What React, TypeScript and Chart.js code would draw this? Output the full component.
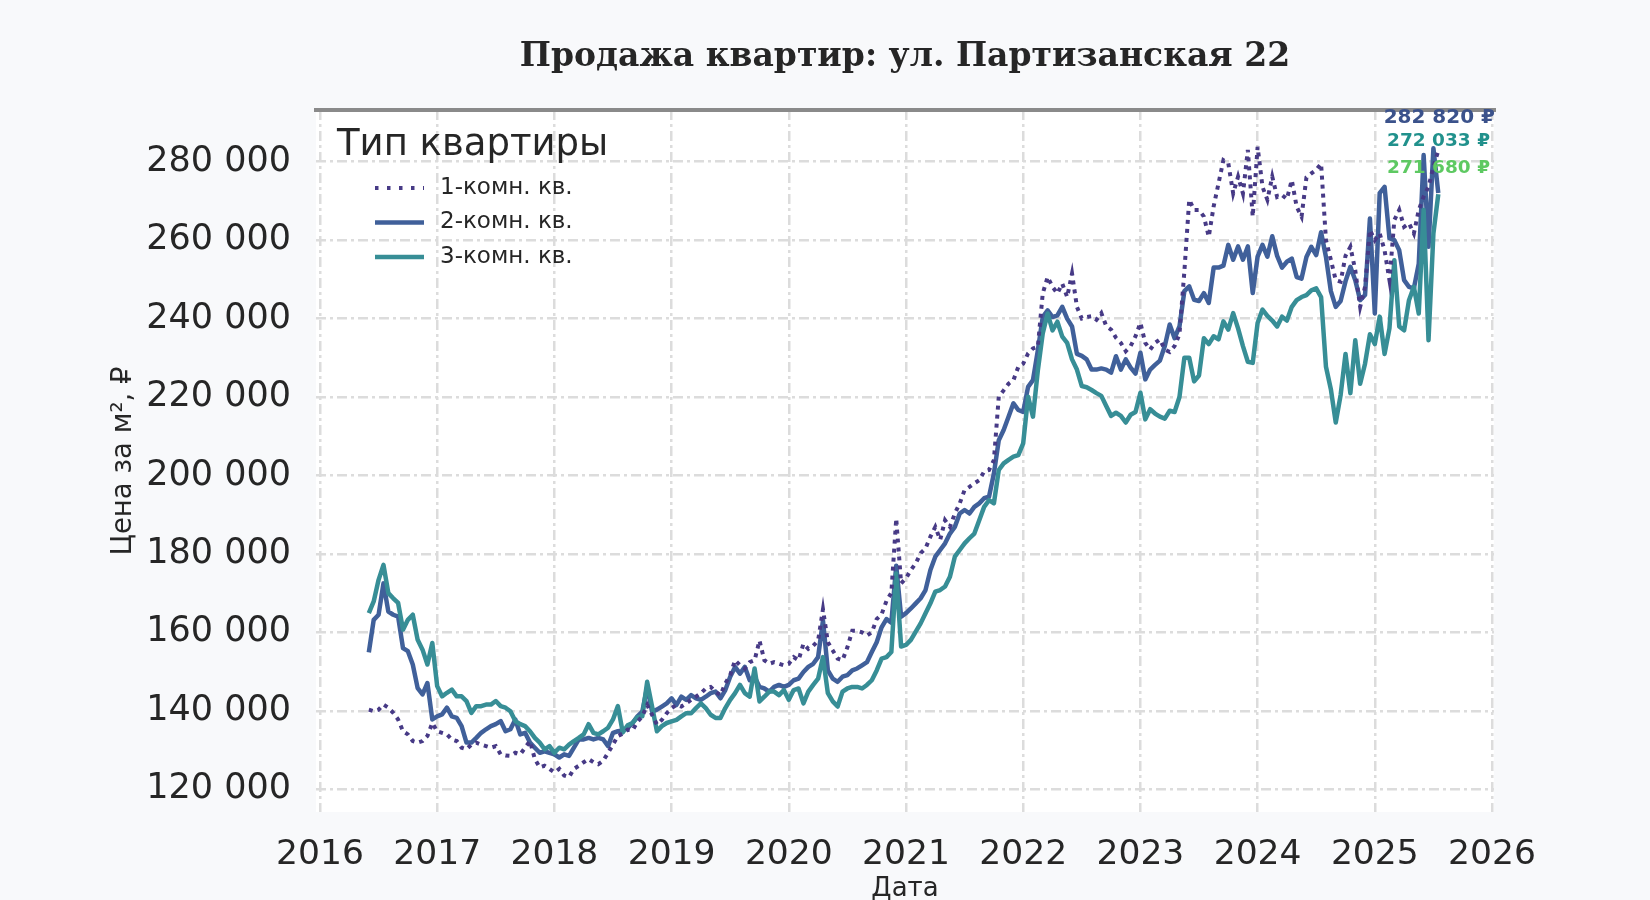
import React, { useEffect, useRef } from 'react';
import { Chart, registerables } from 'chart.js';

Chart.register(...registerables);

// Цена за м², тыс. ₽ — две точки в месяц (1-е и 15-е число)
const years = [2016, 2017, 2018, 2019, 2020, 2021, 2022, 2023, 2024, 2025];
const firstHalfOf2016 = 10; // ряды начинаются с июня 2016

// 1-комн. кв.
const k1_2016 = [140.3, 139.9, 140.3, 141.6, 140.8, 139.5, 137.8, 134.8, 134.0, 132.3, 131.9, 132.3, 133.6, 136.9];
const k1_2017 = [134.8, 134.4, 134.0, 132.7, 132.3, 130.6, 130.2, 131.4, 131.9, 131.4, 131.0, 130.6, 131.0, 128.9, 128.6, 128.5, 129.3, 128.9, 130.6, 132.3, 127.7, 125.6, 126.0, 125.2];
const k1_2018 = [124.3, 125.2, 123.5, 123.1, 125.2, 126.0, 126.9, 127.7, 126.9, 126.4, 127.3, 129.3, 131.4, 133.6, 134.2, 135.2, 135.0, 137.2, 138.6, 141.5, 139.0, 136.5, 137.7, 139.4];
const k1_2019 = [140.7, 141.5, 141.1, 141.9, 142.8, 143.6, 144.5, 145.7, 146.1, 144.9, 144.0, 147.0, 149.1, 152.9, 151.6, 150.8, 152.4, 152.9, 157.9, 152.9, 152.0, 152.4, 152.0, 151.6];
const k1_2020 = [152.0, 153.7, 152.9, 157.1, 155.8, 156.6, 157.9, 165.9, 157.5, 155.4, 153.3, 152.9, 156.2, 160.4, 160.4, 160.0, 159.2, 160.0, 163.4, 164.6, 168.0, 170.1, 189.0, 172.5];
const k1_2021 = [173.8, 175.9, 177.6, 180.2, 181.4, 184.4, 186.9, 183.6, 188.6, 186.9, 190.3, 192.9, 196.3, 197.1, 198.0, 198.8, 201.0, 201.4, 203.9, 220.1, 221.7, 223.4, 224.3, 227.7];
const k1_2022 = [228.5, 231.1, 232.4, 232.8, 246.4, 250.6, 248.1, 246.4, 248.9, 245.5, 251.5, 243.0, 240.0, 240.4, 240.6, 239.7, 241.4, 238.1, 237.2, 235.1, 233.8, 231.7, 233.0, 235.5];
const k1_2023 = [238.9, 233.8, 232.1, 233.8, 234.7, 232.1, 231.5, 233.0, 236.0, 252.0, 270.3, 267.7, 267.7, 266.0, 260.9, 268.6, 274.5, 280.4, 279.6, 271.9, 276.2, 271.9, 283.0, 266.0];
const k1_2024 = [283.8, 273.6, 270.3, 276.2, 271.0, 271.5, 270.5, 275.3, 268.5, 266.0, 276.0, 277.0, 277.9, 279.5, 260.0, 255.0, 249.8, 249.4, 256.0, 258.3, 252.3, 243.0, 248.1, 262.6];
const k1_2025 = [260.0, 261.7, 257.4, 249.8, 265.1, 267.7, 263.4, 264.3, 261.7, 267.7, 271.1, 273.6, 278.7, 282.82];

// 2-комн. кв.
const k2_2016 = [154.9, 163.2, 164.5, 172.5, 165.3, 164.5, 164.0, 156.0, 155.2, 151.8, 145.8, 144.2, 147.1, 137.8];
const k2_2017 = [138.6, 139.1, 140.8, 138.6, 138.2, 136.1, 131.9, 131.9, 133.1, 134.4, 135.3, 136.1, 136.6, 137.4, 134.8, 135.3, 137.8, 134.0, 134.4, 131.9, 130.6, 129.3, 129.7, 129.3];
const k2_2018 = [128.9, 128.1, 128.9, 128.5, 130.6, 132.7, 132.7, 133.1, 132.7, 133.1, 132.7, 131.0, 134.4, 134.8, 135.0, 135.6, 136.9, 138.6, 139.8, 146.1, 139.8, 140.3, 141.1, 141.9];
const k2_2019 = [143.2, 141.5, 143.6, 142.8, 144.0, 143.2, 142.8, 143.6, 144.5, 144.9, 143.2, 145.3, 148.7, 151.2, 149.5, 151.2, 147.8, 148.7, 146.1, 145.7, 144.9, 146.1, 146.6, 146.1];
const k2_2020 = [146.6, 147.8, 148.2, 149.9, 151.2, 152.0, 153.7, 163.0, 150.3, 148.2, 147.4, 148.7, 149.1, 150.3, 150.8, 151.6, 152.4, 155.0, 157.5, 161.3, 163.4, 162.5, 177.0, 164.0];
const k2_2021 = [164.9, 166.1, 167.4, 168.7, 170.8, 175.9, 179.3, 181.0, 182.7, 185.2, 186.9, 190.3, 191.2, 190.3, 192.0, 192.9, 194.2, 194.6, 200.5, 209.0, 211.6, 215.0, 218.4, 216.7];
const k2_2022 = [216.2, 222.6, 224.3, 231.9, 240.4, 242.1, 240.4, 240.8, 243.0, 240.0, 238.0, 231.0, 230.5, 229.6, 227.0, 227.0, 227.3, 227.0, 226.2, 230.4, 227.0, 229.6, 227.5, 226.0];
const k2_2023 = [231.3, 224.5, 227.0, 228.2, 229.3, 233.0, 238.5, 235.0, 238.0, 247.0, 248.2, 244.8, 244.5, 246.5, 244.0, 253.0, 253.0, 253.5, 258.8, 255.0, 258.4, 255.0, 258.4, 246.5];
const k2_2024 = [255.8, 258.8, 255.8, 261.0, 256.0, 253.0, 254.5, 255.3, 250.6, 250.2, 255.7, 258.3, 256.2, 262.0, 255.7, 247.0, 243.0, 244.5, 249.5, 253.2, 249.8, 244.7, 246.0, 265.5];
const k2_2025 = [241.3, 272.0, 273.6, 260.5, 260.0, 257.4, 249.8, 248.1, 247.7, 254.0, 281.7, 258.3, 283.4, 272.033];

// 3-комн. кв.
const k3_2016 = [164.9, 167.9, 173.4, 177.2, 170.0, 168.7, 167.5, 160.7, 163.2, 164.5, 158.1, 155.6, 151.8, 157.3];
const k3_2017 = [146.3, 143.7, 144.6, 145.4, 143.7, 143.7, 142.5, 139.5, 141.2, 141.2, 141.6, 141.6, 142.5, 141.2, 140.8, 139.9, 137.4, 136.6, 136.1, 134.8, 133.1, 131.9, 130.2, 131.0];
const k3_2018 = [129.3, 130.6, 130.2, 131.4, 132.3, 133.1, 134.0, 136.6, 134.4, 134.0, 134.8, 135.7, 137.8, 141.2, 134.5, 136.3, 136.9, 138.4, 138.6, 147.4, 141.1, 134.8, 136.1, 136.9];
const k3_2019 = [137.3, 137.7, 138.6, 139.4, 139.4, 140.7, 141.9, 140.7, 139.0, 138.2, 138.2, 140.7, 142.8, 144.5, 146.6, 144.5, 143.6, 150.8, 142.4, 143.6, 144.9, 144.9, 144.0, 145.3];
const k3_2020 = [142.8, 145.3, 145.7, 141.9, 144.9, 146.6, 148.2, 153.7, 144.5, 142.4, 141.1, 144.9, 145.7, 146.1, 146.1, 145.7, 146.6, 147.8, 150.3, 153.3, 153.7, 155.0, 175.0, 156.4];
const k3_2021 = [156.8, 158.1, 160.2, 162.3, 164.9, 167.4, 170.4, 170.8, 171.7, 174.2, 179.3, 181.0, 182.7, 184.0, 185.2, 188.6, 192.0, 193.7, 192.9, 201.4, 203.1, 204.0, 204.8, 205.2];
const k3_2022 = [208.2, 220.1, 215.0, 226.8, 236.2, 241.3, 237.0, 239.2, 235.4, 233.8, 229.6, 227.0, 222.8, 222.5, 221.8, 221.0, 220.3, 217.7, 215.2, 216.0, 215.2, 213.5, 215.5, 216.2];
const k3_2023 = [221.1, 214.3, 216.9, 215.8, 215.0, 214.5, 216.5, 216.2, 220.0, 230.0, 230.0, 224.0, 225.5, 235.0, 233.5, 235.5, 234.7, 239.3, 237.2, 241.4, 237.5, 233.0, 229.0, 228.7];
const k3_2024 = [238.9, 242.3, 240.7, 239.5, 238.0, 240.5, 239.5, 243.0, 244.7, 245.5, 246.0, 247.2, 247.7, 245.5, 227.7, 222.0, 213.5, 220.5, 231.0, 221.0, 234.5, 223.4, 228.5, 236.0];
const k3_2025 = [233.5, 240.5, 231.0, 237.5, 254.9, 238.0, 237.0, 244.7, 248.1, 241.3, 267.7, 234.5, 261.7, 271.68];

const room1 = [k1_2016, k1_2017, k1_2018, k1_2019, k1_2020, k1_2021, k1_2022, k1_2023, k1_2024, k1_2025];
const room2 = [k2_2016, k2_2017, k2_2018, k2_2019, k2_2020, k2_2021, k2_2022, k2_2023, k2_2024, k2_2025];
const room3 = [k3_2016, k3_2017, k3_2018, k3_2019, k3_2020, k3_2021, k3_2022, k3_2023, k3_2024, k3_2025];

const chartTitle = 'Продажа квартир: ул. Партизанская 22';
const legendTitle = 'Тип квартиры';
const seriesLabels = ['1-комн. кв.', '2-комн. кв.', '3-комн. кв.'];
const seriesColors = ['#473a86', '#40609a', '#378e96'];
const lastValueColors = ['#3b528b', '#21918c', '#5ec962'];

const xTicks = [2016, 2017, 2018, 2019, 2020, 2021, 2022, 2023, 2024, 2025, 2026];
const yTicks = [120000, 140000, 160000, 180000, 200000, 220000, 240000, 260000, 280000];

const TEXT = '#262626';
const FONT = '"DejaVu Sans", sans-serif';

const toPoints = (byYear: number[][]) =>
    byYear.flatMap((vals, yi) =>
        vals.map((v, j) => ({
            x: years[yi] + ((yi === 0 ? firstHalfOf2016 : 0) + j) / 24,
            y: v * 1000,
        }))
    );

const fmt = (v: number) => String(Math.round(v)).replace(/\B(?=(\d{3})+(?!\d))/g, ' ');

const decorPlugin = {
    id: 'decor',
    beforeDraw(chart: any) {
        const { ctx, chartArea: a } = chart;
        ctx.save();
        ctx.fillStyle = '#f8f9fb';
        ctx.fillRect(0, 0, chart.width, chart.height);
        ctx.fillStyle = '#ffffff';
        ctx.fillRect(a.left, a.top, a.right - a.left, a.bottom - a.top);
        ctx.restore();
    },
    afterDraw(chart: any) {
        const { ctx, chartArea: a } = chart;
        ctx.save();

        // title, centred over the plot area
        ctx.textAlign = 'center';
        ctx.textBaseline = 'middle';
        ctx.fillStyle = TEXT;
        ctx.font = `bold 33px "DejaVu Serif", serif`;
        ctx.fillText(chartTitle, (a.left + a.right) / 2, 57);

        // top spine
        ctx.fillStyle = '#8a8a8a';
        ctx.fillRect(a.left - 2, a.top - 2, a.right - a.left + 4, 4);

        // last values
        ctx.textAlign = 'right';
        const sizes = [20, 18.5, 18.5];
        const dy = [8, 31.5, 58.5];
        const dx = [1, -4, -4];
        chart.data.datasets.forEach((ds: any, i: number) => {
            const last = ds.data[ds.data.length - 1].y;
            ctx.font = `bold ${sizes[i]}px ${FONT}`;
            ctx.fillStyle = lastValueColors[i];
            ctx.fillText(`${fmt(last)} ₽`, a.right + dx[i], a.top + dy[i]);
        });

        // legend
        ctx.textAlign = 'left';
        ctx.fillStyle = TEXT;
        ctx.font = `37px ${FONT}`;
        ctx.fillText(legendTitle, a.left + 21, a.top + 35);
        chart.data.datasets.forEach((ds: any, i: number) => {
            const y = a.top + 78 + i * 34.5;
            ctx.beginPath();
            ctx.setLineDash(i === 0 ? [3.5, 8.5] : []);
            ctx.lineWidth = ds.borderWidth;
            ctx.strokeStyle = ds.borderColor;
            ctx.moveTo(a.left + 59, y);
            ctx.lineTo(a.left + 108, y);
            ctx.stroke();
            ctx.setLineDash([]);
            ctx.font = `23px ${FONT}`;
            ctx.fillStyle = TEXT;
            ctx.fillText(ds.label, a.left + 124, y);
        });
        ctx.restore();
    },
};

const App: React.FC = () => {
    const chartRef = useRef<HTMLCanvasElement>(null);
    const chartInstance = useRef<Chart | null>(null);

    useEffect(() => {
        if (!chartRef.current) return;
        if (chartInstance.current) chartInstance.current.destroy();

        const ctx = chartRef.current.getContext('2d');
        if (!ctx) return;

        Chart.defaults.font.family = FONT;

        chartInstance.current = new Chart(ctx, {
            type: 'line',
            data: {
                datasets: [
                    {
                        label: seriesLabels[0],
                        data: toPoints(room1),
                        borderColor: seriesColors[0],
                        borderWidth: 4,
                        borderDash: [4, 5],
                        pointRadius: 0,
                        order: 0,
                    },
                    {
                        label: seriesLabels[1],
                        data: toPoints(room2),
                        borderColor: seriesColors[1],
                        borderWidth: 4.5,
                        borderJoinStyle: 'round',
                        pointRadius: 0,
                        order: 2,
                    },
                    {
                        label: seriesLabels[2],
                        data: toPoints(room3),
                        borderColor: seriesColors[2],
                        borderWidth: 4.5,
                        borderJoinStyle: 'round',
                        pointRadius: 0,
                        order: 1,
                    },
                ],
            },
            options: {
                responsive: false,
                animation: false,
                layout: { padding: { left: 0, right: 156, top: 110, bottom: 0 } },
                scales: {
                    x: {
                        type: 'linear',
                        min: 2015.966,
                        max: 2026.017,
                        afterBuildTicks: (s: any) => {
                            s.ticks = xTicks.map((v) => ({ value: v }));
                        },
                        afterFit: (s: any) => {
                            s.height = 88;
                        },
                        ticks: {
                            autoSkip: false,
                            maxRotation: 0,
                            padding: 22,
                            color: TEXT,
                            font: { size: 34.5 },
                            callback: (v: any) => String(v),
                        },
                        grid: { color: '#dcdcdc', lineWidth: 2.5, drawTicks: false },
                        border: { display: false, dash: [10, 4, 3, 4] },
                        title: {
                            display: true,
                            text: 'Дата',
                            color: TEXT,
                            font: { size: 26 },
                            padding: { top: 0, bottom: -5 },
                        },
                    },
                    y: {
                        type: 'linear',
                        min: 114210,
                        max: 293180,
                        afterBuildTicks: (s: any) => {
                            s.ticks = yTicks.map((v) => ({ value: v }));
                        },
                        afterFit: (s: any) => {
                            s.width = 316;
                        },
                        ticks: {
                            padding: 25,
                            color: TEXT,
                            font: { size: 35 },
                            callback: (v: any) => fmt(Number(v)),
                        },
                        grid: { color: '#dcdcdc', lineWidth: 2.5, drawTicks: false },
                        border: { display: false, dash: [10, 4, 3, 4] },
                        title: {
                            display: true,
                            text: 'Цена за м², ₽',
                            color: TEXT,
                            font: { size: 27.5 },
                            padding: { top: 107.5, bottom: 0 },
                        },
                    },
                },
                plugins: {
                    legend: { display: false },
                    tooltip: { enabled: false },
                    title: { display: false },
                },
            },
            plugins: [decorPlugin],
        });

        return () => {
            if (chartInstance.current) {
                chartInstance.current.destroy();
                chartInstance.current = null;
            }
        };
    }, []);

    return (
        <div style={{ position: 'absolute', left: 0, top: 0, width: 1650, height: 900 }}>
            <canvas ref={chartRef} width={1650} height={900} style={{ display: 'block' }}></canvas>
        </div>
    );
};

export default App;
